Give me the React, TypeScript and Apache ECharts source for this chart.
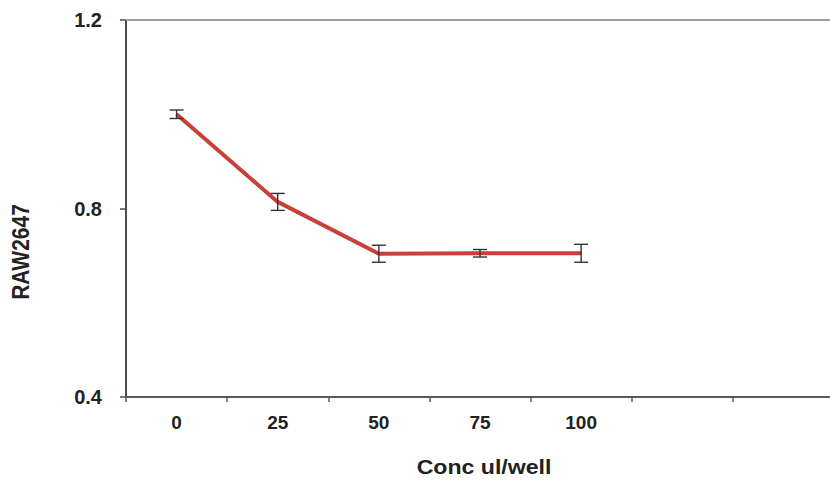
import React, { useEffect, useRef } from "react";
import * as echarts from "echarts";

const categories = ["0", "25", "50", "75", "100", "", ""];
const meanValues = [1.0, 0.814, 0.704, 0.705, 0.705];
const errValues = [0.009, 0.018, 0.018, 0.008, 0.019];
const yTicks = { min: 0.4, max: 1.2, interval: 0.4 };
const xName = "Conc ul/well";
const yName = "RAW2647";

export default function App() {
  const ref = useRef<HTMLDivElement>(null);
  useEffect(() => {
    if (!ref.current) return;
    const chart = echarts.init(ref.current, null, { renderer: "svg" });
    const font = "'Liberation Sans', Arial, sans-serif";
    const errData = meanValues.map((v, i) => [i, v - errValues[i], v + errValues[i]]);
    chart.setOption({
      animation: false,
      backgroundColor: "#ffffff",
      grid: { left: 126, top: 20, right: 6, bottom: 86, containLabel: false },
      graphic: [
        {
          type: "text",
          x: 484,
          y: 467,
          scaleX: 1.1,
          style: {
            text: xName,
            align: "center",
            verticalAlign: "middle",
            fontFamily: font,
            fontWeight: "bold",
            fontSize: 21,
            fill: "#222",
          },
        },
        {
          type: "text",
          x: 21,
          y: 252,
          rotation: Math.PI / 2,
          scaleY: 1.15,
          style: {
            text: yName,
            align: "center",
            verticalAlign: "middle",
            fontFamily: font,
            fontWeight: "bold",
            fontSize: 21,
            fill: "#222",
          },
        },
      ],
      xAxis: [
        {
          type: "category",
          data: categories,
          boundaryGap: true,
          position: "bottom",
          axisLine: { lineStyle: { color: "#5a5a5a", width: 2 } },
          axisTick: { show: true, length: 5, lineStyle: { color: "#5a5a5a", width: 1.5 } },
          axisLabel: { fontFamily: font, fontWeight: "bold", fontSize: 19, color: "#222", margin: 16, interval: 0 },
          splitLine: { show: false },
        },
        {
          type: "category",
          data: categories,
          position: "top",
          axisLine: { lineStyle: { color: "#a0a0a0", width: 2 } },
          axisTick: { show: false },
          axisLabel: { show: false },
          splitLine: { show: false },
        },
      ],
      yAxis: {
        type: "value",
        min: yTicks.min,
        max: yTicks.max,
        interval: yTicks.interval,
        axisLine: { show: true, lineStyle: { color: "#4d4d4d", width: 2 } },
        axisTick: { show: true, length: 6, lineStyle: { color: "#4d4d4d", width: 1.5 } },
        axisLabel: {
          fontFamily: font,
          fontWeight: "bold",
          fontSize: 20,
          color: "#222",
          margin: 24,
          formatter: (v: number) => v.toFixed(1),
        },
        splitLine: { show: false },
      },
      series: [
        {
          type: "line",
          data: meanValues,
          symbol: "none",
          lineStyle: { color: "#c9403b", width: 4 },
          z: 2,
        },
        {
          type: "custom",
          data: errData,
          z: 3,
          renderItem: (params: any, api: any) => {
            const x = api.value(0);
            const lo = api.coord([x, api.value(1)]);
            const hi = api.coord([x, api.value(2)]);
            const w = 7;
            const style = { stroke: "#333", lineWidth: 1.4 };
            return {
              type: "group",
              children: [
                { type: "line", shape: { x1: lo[0], y1: lo[1], x2: hi[0], y2: hi[1] }, style },
                { type: "line", shape: { x1: lo[0] - w, y1: lo[1], x2: lo[0] + w, y2: lo[1] }, style },
                { type: "line", shape: { x1: hi[0] - w, y1: hi[1], x2: hi[0] + w, y2: hi[1] }, style },
              ],
            };
          },
        },
      ],
    });
    return () => chart.dispose();
  }, []);
  return (
    <div
      ref={ref}
      style={{ position: "fixed", left: 0, top: 0, width: 840, height: 483 }}
    />
  );
}
